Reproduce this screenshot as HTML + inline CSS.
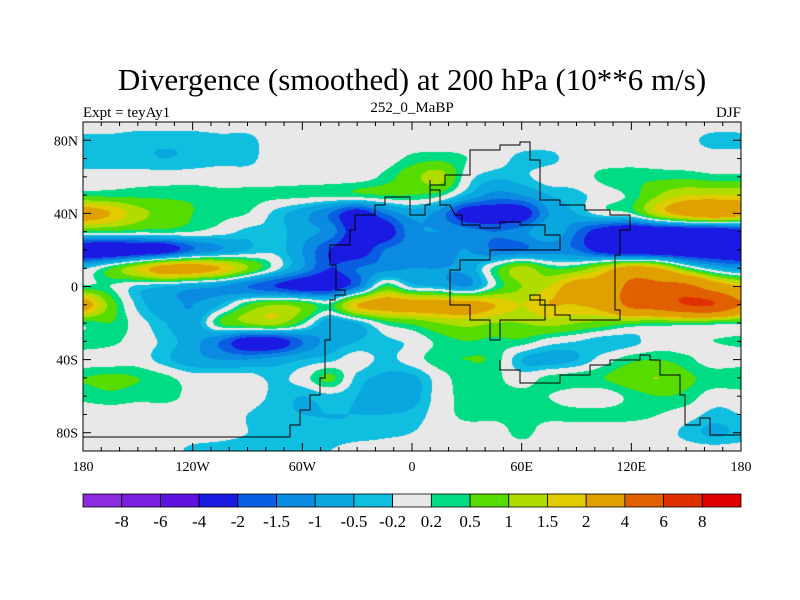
<!DOCTYPE html>
<html><head><meta charset="utf-8">
<style>
body{margin:0;background:#fff;}
#wrap{position:relative;width:800px;height:600px;overflow:hidden;font-family:"Liberation Serif",serif;}
svg{position:absolute;left:0;top:0;}
canvas{position:absolute;left:83px;top:122px;}
</style></head>
<body>
<div id="wrap">
<canvas id="field" width="658" height="329"></canvas>
<svg id="svg" width="800" height="600"></svg>
</div>
<script>
// Data
const lons = [-180,-165,-150,-135,-120,-105,-90,-75,-60,-45,-30,-15,0,15,30,45,60,75,90,105,120,135,150,165,180];
const lats = [90,80,70,60,50,40,30,20,10,0,-10,-20,-30,-40,-50,-60,-70,-80,-90];
const row90  = [0,0,0,0,0,0,0,0,0,0,0,0,0,0,0,0,0,0,0,0,0,0,0,0,0];
const row80  = [-0.3,-0.3,-0.4,-0.4,-0.4,-0.3,-0.3,0,0,0,0,0,0,0,0,0,0,0,0,0,0,0,-0.1,-0.3,-0.3];
const row70  = [-0.4,-0.4,-0.4,-0.5,-0.4,-0.3,-0.3,0,0,0,0,0,0.3,0.4,0.2,0,-0.3,-0.3,0,0,0,0,0,0,0];
const row60  = [0,0,0,0,0,0,0,0,0,0,0,0.3,0.8,1.2,0,-0.4,-0.3,0,0,0.3,0.4,0.4,0.4,0.3,0.3];
const row50  = [0.4,0.4,0.4,0.4,0.4,0.3,0.3,0.3,0.3,0.3,0.4,0.5,0.5,0.3,-0.5,-1.2,-1,-0.5,-0.3,0,0.3,1,1.5,1.5,1.5];
const row40  = [2.5,2,1.2,0.8,0.5,0.3,0.2,-0.3,-0.8,-1.5,-2.5,-1.5,-0.8,-1.2,-2.5,-2.5,-2.5,-1,-0.5,0,0.2,1.5,2.5,3,2.5];
const row30  = [0.4,0.4,0.3,0.3,0.2,0,-0.3,-0.3,-0.8,-1.2,-2.5,-2.5,-1.2,-1,-1.2,-1.5,-1.2,-0.5,-1.5,-2.5,-3,-3,-3,-3,-2.5];
const row20  = [-3,-3,-2.8,-2.5,-1.5,-1,-0.5,-0.3,-1,-2,-2.5,-1.5,-1.2,-1.2,-1,-1.5,-1.5,-1.2,-1.5,-2.5,-3,-3,-3,-3,-3];
const row10  = [-0.3,0.5,1.5,2.5,2.5,2,1,0,-1,-2,-1.5,-1.2,-1,-1,-0.8,0.3,1.2,0.5,0.6,1.5,2.5,2,0.5,-0.5,-1];
const row0   = [0.3,0.2,-0.3,-0.5,-0.8,-1,-1.5,-2,-2.5,-2.5,-1.5,0.5,-0.3,-0.5,-1,0.2,1,1.5,2.5,2.5,4.5,4.5,4.5,3,2];
const rowS10 = [2.5,0.8,-0.3,-0.8,-1,-0.5,0.5,1,0.8,0.3,2,2.5,2.5,2.5,2.5,2,1.5,2,2,2.5,4.5,5,6,6,4];
const rowS20 = [0.3,0.5,0,-0.5,-0.8,0.5,1,1.2,0.3,-0.8,-0.5,0.3,0.6,1,1.2,1,1,1.2,1,0.8,0.6,0.5,0.5,0.4,0.3];
const rowS30 = [0.4,0.3,0,-0.3,-0.8,-1.5,-2.5,-2.5,-1.5,-0.8,-0.5,-0.3,-0.1,0.3,0.5,0.4,0.4,0,-0.2,-0.4,-0.3,0,0,0.2,0.3];
const rowS40 = [0,0,0,-0.4,-0.8,-1,-1,-0.8,-0.5,-0.3,0,-0.3,0,0.4,0.5,0.4,-0.5,-0.7,-0.5,0,0.4,0.5,0.3,0,0];
const rowS50 = [0.5,0.6,0.5,0.3,0,0,0,-0.3,0,0.6,-0.3,-0.6,-0.6,0,0.4,0.3,0,0.3,0.4,0.5,0.8,1,0.6,0.4,0.5];
const rowS60 = [0.3,0.4,0.3,0.3,0.1,0,0,-0.3,-0.5,-0.3,-0.5,-0.8,-0.7,0,0.3,0.3,0.3,0.2,0,0,0.3,0.5,0.4,0,0];
const rowS70 = [0,0,0,0,0,0,-0.2,-0.4,-0.5,-0.5,-0.5,-0.5,-0.4,0,0.3,0.3,0.3,0.3,0.3,0.3,0.3,0.2,0,-0.3,-0.2];
const rowS80 = [0,0,0,0,0,-0.1,-0.2,-0.3,-0.3,-0.4,-0.4,-0.3,-0.2,0,0,0,0.3,0,0,0,0,0,-0.3,-0.6,-0.4];
const rowS90 = [0,0,0,0,-0.3,-0.3,-0.3,-0.3,-0.3,-0.2,0,0,0,0,0,0,0,0,0,0,0,0,0,0,0];
const grid = [row90,row80,row70,row60,row50,row40,row30,row20,row10,row0,rowS10,rowS20,rowS30,rowS40,rowS50,rowS60,rowS70,rowS80,rowS90];
const levels = [-8,-6,-4,-2,-1.5,-1,-0.5,-0.2,0.2,0.5,1,1.5,2,4,6,8];
const levelLabels = ["-8","-6","-4","-2","-1.5","-1","-0.5","-0.2","0.2","0.5","1","1.5","2","4","6","8"];
const colors = ["#8c2ce0","#7a20e0","#6012e0","#1a1ae2","#0a5ee2","#0a8ae0","#0aa6e0","#10bee0","#e8e8e8","#00dc84","#56dc00","#b0dc00","#e0cc00","#e0a000","#e06000","#e03000","#e00000"];
const xTickVals = [-180,-120,-60,0,60,120,180];
const xTickLabels = ["180","120W","60W","0","60E","120E","180"];
const yTickVals = [80,40,0,-40,-80];
const yTickLabels = ["80N","40N","0","40S","80S"];

// axes
const X0=83, X1=741, Y0=122, Y1=451;
const xScale = lon => X0 + (lon+180)/360*(X1-X0);
const yScale = lat => Y0 + (90-lat)/180*(Y1-Y0);
const NS="http://www.w3.org/2000/svg";
const svg=document.getElementById('svg');
function mk(tag,attrs,parent){const e=document.createElementNS(NS,tag);for(const k in attrs)e.setAttribute(k,attrs[k]);(parent||svg).appendChild(e);return e;}

// field
function cub(p0,p1,p2,p3,t){return p1+0.5*t*(p2-p0+t*(2*p0-5*p1+4*p2-p3+t*(3*(p1-p2)+p3-p0)));}
function hex(c){return [parseInt(c.slice(1,3),16),parseInt(c.slice(3,5),16),parseInt(c.slice(5,7),16)];}
const rgb = colors.map(hex);
const cv=document.getElementById('field');const ctx=cv.getContext('2d');
const W=cv.width,H=cv.height;const img=ctx.createImageData(W,H);
const nr=grid.length,nc=lons.length;
function g(r,c){r=Math.max(0,Math.min(nr-1,r));c=Math.max(0,Math.min(nc-1,c));return grid[r][c];}
for(let py=0;py<H;py++){
  const lat=90-(py+0.5)/H*180;
  const fr=(lats[0]-lat)/(lats[0]-lats[1]);const r=Math.floor(fr);const tr=fr-r;
  for(let px=0;px<W;px++){
    const lon=-180+(px+0.5)/W*360;
    const fc=(lon-lons[0])/(lons[1]-lons[0]);const c=Math.floor(fc);const tc=fc-c;
    const rows=[];
    for(let k=-1;k<=2;k++)rows.push(cub(g(r+k,c-1),g(r+k,c),g(r+k,c+1),g(r+k,c+2),tc));
    const v=cub(rows[0],rows[1],rows[2],rows[3],tr);
    let i=0;while(i<levels.length&&v>=levels[i])i++;
    const col=rgb[i];const o=(py*W+px)*4;
    img.data[o]=col[0];img.data[o+1]=col[1];img.data[o+2]=col[2];img.data[o+3]=255;
  }
}
ctx.putImageData(img,0,0);

// coastline approximation (rough)
const coast = [
 "83,437 290,437 290,425 300,425 300,410 310,410 310,395 320,395 320,378 325,378 325,340 330,340 330,300 335,300 335,295 345,295 345,290 336,290 336,265 330,265 330,245 350,245 350,230 355,230 355,215 375,215 375,205 385,205 385,197 410,197 410,215 425,215 425,205 430,205 430,185 445,185 445,175 470,175 470,150 500,150 500,145 520,145 520,142 530,142 530,160 540,160 540,200 560,200 560,205 585,205 585,210 610,210 610,215 630,215 630,230 620,230 620,255 615,255 615,310 620,310 620,320 570,320 570,315 555,315 555,305 540,305 540,295 530,295 530,300 545,300 545,320 500,320 500,340 490,340 490,320 470,320 470,305 450,305 450,270 460,270 460,260 490,260 490,250 560,250 560,235 545,235 545,225 520,225 520,222 500,222 500,228 480,228 480,225 462,225 462,215 455,215 450,205 440,205 440,190 430,190 430,180",
 "500,360 500,370 520,370 520,383 560,383 560,375 590,375 590,365 610,365 610,360 640,360 640,355 650,355 650,360 660,360 660,375 680,375 680,395 685,395 685,425 700,425 700,418 710,418 710,435 741,435"
];
coast.forEach(p=>{const l=mk('polyline',{points:p,fill:'none',stroke:'#000','stroke-width':1});});

// frame
const fr=mk('rect',{x:X0,y:Y0,width:X1-X0,height:Y1-Y0,fill:'none',stroke:'#000','stroke-width':1});


for(let lon=-180;lon<=180;lon+=10){
  const x=xScale(lon);const major=xTickVals.includes(lon);const len=major?8:4;
  const t1=mk('line',{x1:x,x2:x,y1:Y1,y2:Y1-len,stroke:'#000','stroke-width':1});
  
  const t2=mk('line',{x1:x,x2:x,y1:Y0,y2:Y0+len,stroke:'#000','stroke-width':1});
  
}
for(let lat=-90;lat<=90;lat+=10){
  const y=yScale(lat);const major=yTickVals.includes(lat);const len=major?8:4;
  const t1=mk('line',{x1:X0,x2:X0+len,y1:y,y2:y,stroke:'#000','stroke-width':1});
  
  const t2=mk('line',{x1:X1,x2:X1-len,y1:y,y2:y,stroke:'#000','stroke-width':1});
  
}
xTickVals.forEach((v,i)=>{
  const t=mk('text',{x:xScale(v),y:Y1+20,'text-anchor':'middle','font-size':14,'font-family':'Liberation Serif, serif'});
  t.textContent=xTickLabels[i];
});
yTickVals.forEach((v,i)=>{
  const t=mk('text',{x:X0-5,y:yScale(v)+5,'text-anchor':'end','font-size':14,'font-family':'Liberation Serif, serif'});
  t.textContent=yTickLabels[i];
});

let t=mk('text',{x:412,y:90,'text-anchor':'middle','font-size':31,'font-family':'Liberation Serif, serif'});
t.textContent='Divergence (smoothed) at 200 hPa (10**6 m/s)';
t=mk('text',{x:83,y:117,'text-anchor':'start','font-size':15,'font-family':'Liberation Serif, serif'});
t.textContent='Expt = teyAy1';
t=mk('text',{x:412,y:112,'text-anchor':'middle','font-size':15,'font-family':'Liberation Serif, serif'});
t.textContent='252_0_MaBP';
t=mk('text',{x:741,y:117,'text-anchor':'end','font-size':15,'font-family':'Liberation Serif, serif'});
t.textContent='DJF';

const CB0=83,CB1=741,CBY=494,CBH=13;const bw=(CB1-CB0)/colors.length;
colors.forEach((c,i)=>{
  const r=mk('rect',{x:CB0+i*bw,y:CBY,width:bw,height:CBH,fill:c,stroke:'#000','stroke-width':0.8});
  
});
levelLabels.forEach((l,i)=>{
  const tx=mk('text',{x:CB0+(i+1)*bw,y:CBY+CBH+20,'text-anchor':'middle','font-size':17,'font-family':'Liberation Serif, serif'});
  tx.textContent=l;
});
</script>
</body></html>
